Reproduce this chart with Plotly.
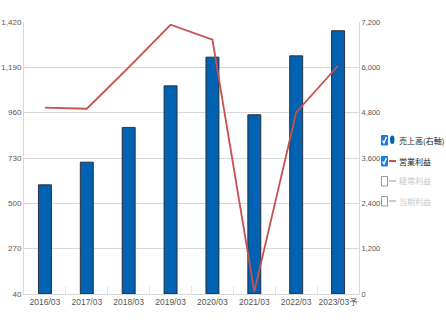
import plotly.graph_objects as go

# Fiscal years (March year-end), last one is a forecast
periods = ["2016/03", "2017/03", "2018/03", "2019/03", "2020/03", "2021/03", "2022/03", "2023/03予"]
# 売上高 (right axis)
sales = [2890, 3490, 4410, 5510, 6270, 4745, 6305, 6970]
# 営業利益 (left axis)
op_income = [986, 980, 1190, 1406, 1330, 52, 961, 1198]

left_ticks = [40, 270, 500, 730, 960, 1190, 1420]
right_ticks = [0, 1200, 2400, 3600, 4800, 6000, 7200]

legend_items = [
    ("売上高(右軸)", True, "dot"),
    ("営業利益", True, "line"),
    ("経常利益", False, "line"),
    ("当期利益", False, "line"),
]

NUM_FAMILY = "Liberation Sans Narrow, Liberation Sans, Noto Sans CJK JP"
TICK_FONT = dict(family=NUM_FAMILY, size=8.5, color="#555555")
LEFT_TICK_FONT = dict(family=NUM_FAMILY, size=8, color="#555555")
RIGHT_TICK_FONT = dict(family=NUM_FAMILY, size=7.5, color="#555555")
JP_FONT = "Noto Sans CJK JP, Liberation Sans, sans-serif"

BAR_BLUE = "#0062B0"
LINE_RED = "#C8504D"
GRID = "#D9D9D9"

fig = go.Figure()

fig.add_trace(go.Bar(
    x=periods, y=sales, name="売上高(右軸)",
    marker=dict(color=BAR_BLUE, line=dict(color="rgba(30,30,40,0.85)", width=1)),
    width=0.31, yaxis="y", showlegend=False,
))
fig.add_trace(go.Scatter(
    x=periods, y=op_income, name="営業利益", mode="lines",
    line=dict(color=LINE_RED, width=1.8), yaxis="y2", showlegend=False,
))

# plot area geometry in pixels
L, R, T, B = 24, 87, 22, 33
W, H = 446, 327
pw, ph = W - L - R, H - T - B

def px(x):
    return (x - L) / pw

def py(y):
    return (H - B - y) / ph

shapes = []
annotations = []
row_y = [140, 161, 181, 201]
for (label, checked, kind), yy in zip(legend_items, row_y):
    # checkbox
    if checked:
        shapes.append(dict(type="rect", xref="paper", yref="paper",
                           x0=px(381.5), x1=px(387.5), y0=py(yy + 5), y1=py(yy - 4.5),
                           fillcolor="#1C7CE5", line=dict(color="#1C7CE5", width=1)))
        path = "M {:.5f},{:.5f} L {:.5f},{:.5f} L {:.5f},{:.5f}".format(
            px(382.6), py(yy + 0.5), px(384.0), py(yy + 3), px(386.4), py(yy - 3))
        shapes.append(dict(type="path", xref="paper", yref="paper", path=path,
                           line=dict(color="white", width=1.4)))
    else:
        shapes.append(dict(type="rect", xref="paper", yref="paper",
                           x0=px(381.5), x1=px(387.5), y0=py(yy + 5), y1=py(yy - 4.5),
                           fillcolor="white", line=dict(color="#9A9A9A", width=1)))
    # series symbol
    if kind == "dot":
        shapes.append(dict(type="circle", xref="paper", yref="paper",
                           x0=px(390), x1=px(394.5), y0=py(yy + 4), y1=py(yy - 4.5),
                           fillcolor=BAR_BLUE, line=dict(color=BAR_BLUE, width=0)))
    else:
        shapes.append(dict(type="line", xref="paper", yref="paper",
                           x0=px(389), x1=px(396), y0=py(yy), y1=py(yy),
                           line=dict(color=LINE_RED if checked else "#CCCCCC", width=2)))
    annotations.append(dict(text=label, x=px(397), y=py(yy), xref="paper", yref="paper",
                            xanchor="left", yanchor="middle", showarrow=False,
                            font=dict(family=JP_FONT, size=8, color="#222222" if checked else "#C8C8C8")))

fig.update_layout(
    width=W, height=H,
    margin=dict(l=L, r=R, t=T, b=B, autoexpand=False),
    paper_bgcolor="white", plot_bgcolor="white",
    showlegend=False,
    xaxis=dict(
        type="category", tickfont=TICK_FONT, tickangle=0, showgrid=False, automargin=False,
        showline=True, linecolor=GRID, linewidth=1,
        ticks="inside", ticklen=8, tickcolor="#E6E6E6", tickson="boundaries",
        range=[-0.5, len(periods) - 0.5],
    ),
    yaxis=dict(
        side="right", range=[0, 7200], tickvals=right_ticks, tickformat=",", automargin=False,
        tickfont=RIGHT_TICK_FONT, showgrid=True, gridcolor=GRID, gridwidth=1,
        showline=True, linecolor=GRID, ticks="",
        zeroline=False,
    ),
    yaxis2=dict(
        side="left", overlaying="y", range=[40, 1420], tickvals=left_ticks, tickformat=",",
        automargin=False, tickfont=LEFT_TICK_FONT, showgrid=False,
        showline=True, linecolor=GRID, ticks="",
        zeroline=False,
    ),
    shapes=shapes,
    annotations=annotations,
)

fig.write_html("out.html")
